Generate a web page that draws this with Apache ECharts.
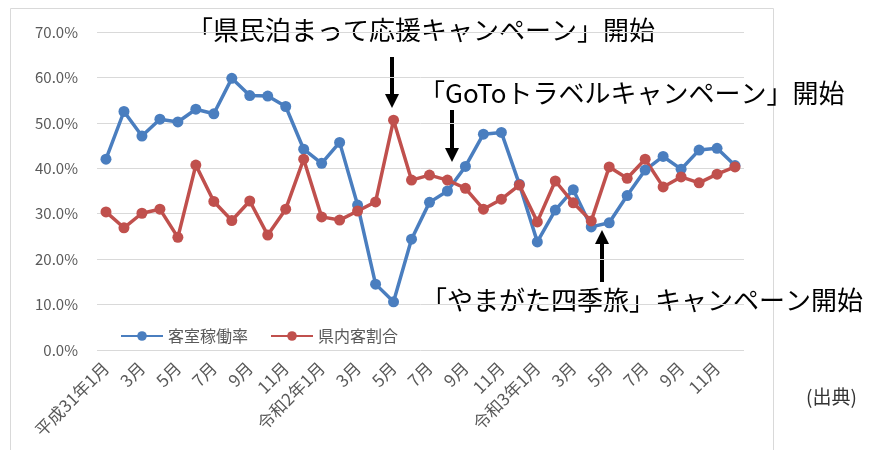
<!DOCTYPE html>
<html>
<head>
<meta charset="utf-8">
<script src="https://cdn.jsdelivr.net/npm/echarts@6/dist/echarts.min.js"></script>
<style>
  html, body { margin: 0; padding: 0; background: #fff; }
  #chart { width: 874px; height: 450px; }
</style>
</head>
<body>
<div id="chart"></div>
<script>
// 月ラベル（平成31年1月〜令和3年12月）
const months = [
  '平成31年1月', '2月', '3月', '4月', '5月', '6月', '7月', '8月', '9月', '10月', '11月', '12月',
  '令和2年1月', '2月', '3月', '4月', '5月', '6月', '7月', '8月', '9月', '10月', '11月', '12月',
  '令和3年1月', '2月', '3月', '4月', '5月', '6月', '7月', '8月', '9月', '10月', '11月', '12月'
]

// 客室稼働率 (%)
const occupancy = [
  42.0, 52.5, 47.1, 50.8, 50.2, 53.0, 52.0, 59.8, 56.0, 55.9, 53.6, 44.2,
  41.1, 45.7, 31.9, 14.5, 10.6, 24.4, 32.5, 35.0, 40.4, 47.5, 47.9, 36.5,
  23.8, 30.8, 35.3, 27.1, 28.0, 34.0, 39.6, 42.6, 39.8, 44.0, 44.4, 40.6
]

// 県内客割合 (%)
const inPrefecture = [
  30.4, 26.9, 30.1, 31.0, 24.8, 40.7, 32.7, 28.5, 32.8, 25.3, 31.0, 42.0,
  29.3, 28.6, 30.6, 32.6, 50.6, 37.4, 38.5, 37.4, 35.6, 31.0, 33.2, 36.3,
  28.2, 37.2, 32.4, 28.4, 40.3, 37.8, 42.0, 35.9, 38.1, 36.8, 38.7, 40.3
]

const seriesNames = ['客室稼働率', '県内客割合']
const yTicks = { min: 0, max: 70, step: 10 }

const chart = echarts.init(document.getElementById('chart'))
const font = '"Noto Sans CJK JP", "Noto Sans", sans-serif'
const gray = '#595959'

// 矢印（注記用）
const arrow = (x, y1, y2) => {
  const dir = y2 > y1 ? 1 : -1
  const headBase = y2 - dir * 14
  return [
    { type: 'line', shape: { x1: x, y1: y1, x2: x, y2: headBase }, style: { stroke: '#000', lineWidth: 4 } },
    { type: 'polygon', shape: { points: [[x - 7, headBase], [x + 7, headBase], [x, y2]] }, style: { fill: '#000' } }
  ]
}
const note = (x, y, text) => ({
  type: 'text', left: x, top: y,
  style: { text: text, fontSize: 26, fontFamily: font, fill: '#000' }
})

const option = {
  animation: false,
  textStyle: { fontFamily: font },
  grid: { left: 97, right: 130, top: 32, bottom: 100 },
  legend: {
    data: seriesNames,
    left: 115, top: 323,
    itemWidth: 42, itemHeight: 12, itemGap: 22,
    textStyle: { fontSize: 16, color: gray, fontFamily: font }
  },
  xAxis: {
    type: 'category',
    data: months,
    boundaryGap: true,
    axisLine: { show: false },
    axisTick: { show: false },
    axisLabel: { interval: 1, rotate: 45, fontSize: 17, color: gray, margin: 15 }
  },
  yAxis: {
    type: 'value',
    min: yTicks.min, max: yTicks.max, interval: yTicks.step,
    axisLine: { show: false },
    axisTick: { show: false },
    splitLine: { lineStyle: { color: '#d9d9d9', width: 1 } },
    axisLabel: { fontSize: 15, color: gray, margin: 19, formatter: v => v.toFixed(1) + '%' }
  },
  series: [
    {
      name: seriesNames[0], type: 'line', data: occupancy,
      symbol: 'circle', symbolSize: 11,
      lineStyle: { width: 3.5, color: '#4a7ebf' },
      itemStyle: { color: '#4a7ebf' }
    },
    {
      name: seriesNames[1], type: 'line', data: inPrefecture,
      symbol: 'circle', symbolSize: 11,
      lineStyle: { width: 3.5, color: '#c0504d' },
      itemStyle: { color: '#c0504d' }
    }
  ],
  graphic: [
    { type: 'rect', shape: { x: 10.5, y: 8.5, width: 763, height: 470 }, style: { fill: 'none', stroke: '#d9d9d9', lineWidth: 1 } },
    note(187, 17, '「県民泊まって応援キャンペーン」開始'),
    note(419, 80, '「GoToトラベルキャンペーン」開始'),
    note(421, 287, '「やまがた四季旅」キャンペーン開始'),
    { type: 'text', left: 806, top: 387, style: { text: '(出典)', fontSize: 19, fontFamily: font, fill: '#333' } },
    ...arrow(392, 57, 108),
    ...arrow(452, 110, 162),
    ...arrow(602, 282, 230)
  ]
}

chart.setOption(option)
</script>
</body>
</html>
